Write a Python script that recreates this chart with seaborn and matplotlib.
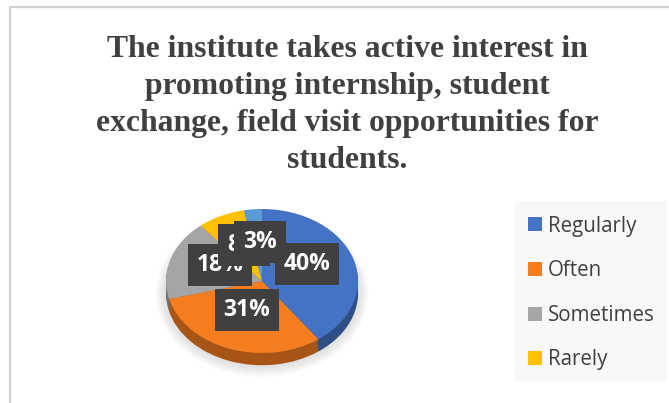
import matplotlib
matplotlib.use("Agg")
import matplotlib.pyplot as plt
from matplotlib.patches import Rectangle, Ellipse
import seaborn as sns

sns.set_theme(style="white")

categories = ["Regularly", "Often", "Sometimes", "Rarely", "Never"]
values = [40, 31, 18, 8, 3]
palette = ["#4472C4", "#F47D20", "#A5A5A5", "#FFC000", "#5B9BD5"]
title = ("The institute takes active interest in\n"
         "promoting internship, student\n"
         "exchange, field visit opportunities for\n"
         "students.")
label_pos = [(307, 264), (247, 310), (220, 265), (244, 245), (260, 242)]

W, H = 669, 403
fig = plt.figure(figsize=(W / 100, H / 100), dpi=100, facecolor="white")


def fx(x):
    return x / W


def fy(y):
    return 1 - y / H


def darker(c, f=0.68):
    r, g, b = matplotlib.colors.to_rgb(c)
    return (r * f, g * f, b * f)


# chart border
fig.add_artist(Rectangle((fx(10), fy(450)), (700 - 10) / W, (450 - 7) / H,
                         transform=fig.transFigure, fill=False,
                         edgecolor="#d0d0d0", linewidth=1.6))

# title
fig.text(fx(347), fy(105), title, ha="center", va="center", color="#404040",
         family="Liberation Serif", fontweight="bold", fontsize=22.8,
         linespacing=1.36)

# pie axes: an elliptical pie through a stretched axes
cx, cy, rx, ry = 262, 281, 96, 72
span = 1.6
ax = fig.add_axes([fx(cx - rx * span), fy(cy + ry * span),
                   2 * rx * span / W, 2 * ry * span / H])
ax.set_axis_off()

# soft shadow
for i in range(6):
    ax.add_patch(Ellipse((0, -0.18), 2.06 + 0.03 * i, 2.06 + 0.05 * i,
                         color="#707070", alpha=0.03, linewidth=0))

# extruded side
for off in [0.17, 0.14, 0.11, 0.08, 0.05, 0.02]:
    ax.pie(values, colors=[darker(c) for c in palette], startangle=90,
           counterclock=False, center=(0, -off), radius=1.0,
           wedgeprops={"linewidth": 0})

wedges, _ = ax.pie(values, colors=palette, startangle=90, counterclock=False,
                   center=(0, 0), radius=1.0, wedgeprops={"linewidth": 0})
ax.set_aspect("auto")
ax.set_xlim(-span, span)
ax.set_ylim(-span, span)

# data labels
for v, (x, y) in zip(values, label_pos):
    fig.text(fx(x), fy(y), f"{v}%", ha="center", va="center", color="white",
             family="Open Sans", fontweight="bold", fontsize=16.5,
             bbox=dict(boxstyle="square,pad=0.38", facecolor="#404040",
                       edgecolor="none"))

# legend
fig.add_artist(Rectangle((fx(515), fy(382)), 152 / W, 181 / H,
                         transform=fig.transFigure, facecolor="#f8f8f8",
                         edgecolor="none"))
fig.legend(wedges[:4], categories[:4], loc="center left",
           bbox_to_anchor=(fx(528), fy(293)), frameon=False,
           prop={"family": "Open Sans", "size": 14.8}, labelcolor="#404040",
           handlelength=0.68, handleheight=0.68, handletextpad=0.3,
           labelspacing=1.15, borderpad=0, borderaxespad=0)

fig.savefig("out.png", dpi=100)
